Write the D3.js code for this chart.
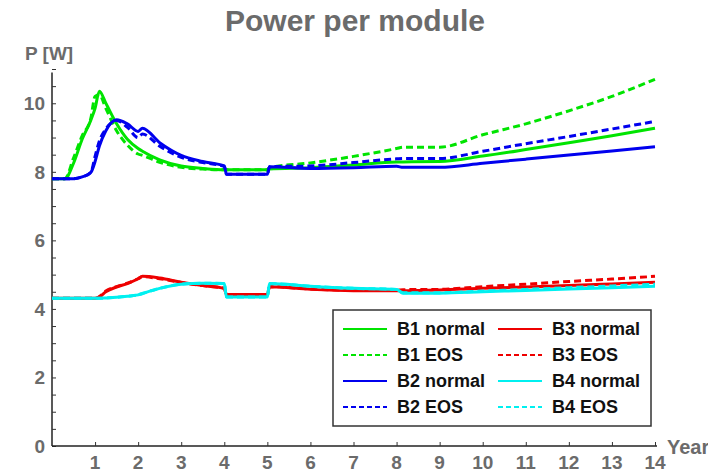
<!DOCTYPE html>
<html>
<head>
<meta charset="utf-8">
<script src="https://cdn.jsdelivr.net/npm/d3@7"></script>
<style>
  body { margin: 0; background: #fff; }
  text { font-family: "Liberation Sans", Arial, sans-serif; font-weight: bold; }
</style>
</head>
<body>
<div id="chart"></div>
<script>
// time grid (years)
var years = [0, 0.3, 0.5, 0.7, 0.9, 1.0, 1.1, 1.25, 1.5, 1.75, 2.0, 2.1, 2.5, 3.0, 3.5, 4.0, 4.05, 5.0, 5.05, 6, 7, 8, 8.15, 9, 10, 11, 12, 13, 14]

var b1_normal = [7.8, 7.8, 8.25, 8.95, 9.5, 9.85, 10.35, 10.0, 9.4, 8.95, 8.68, 8.6, 8.35, 8.17, 8.1, 8.06, 8.06, 8.06, 8.08, 8.12, 8.2, 8.29, 8.29, 8.3, 8.46, 8.65, 8.85, 9.05, 9.27]
var b1_eos = [7.8, 7.8, 8.4, 9.05, 9.55, 10.2, 10.25, 9.85, 9.2, 8.78, 8.52, 8.48, 8.28, 8.13, 8.08, 8.06, 8.06, 8.06, 8.12, 8.26, 8.45, 8.68, 8.72, 8.72, 9.08, 9.4, 9.78, 10.2, 10.7]
var b2_normal = [7.8, 7.8, 7.8, 7.85, 7.98, 8.3, 8.75, 9.2, 9.52, 9.4, 9.18, 9.27, 8.85, 8.48, 8.3, 8.17, 7.93, 7.93, 8.15, 8.1, 8.12, 8.16, 8.13, 8.13, 8.25, 8.37, 8.49, 8.61, 8.73]
var b2_eos = [7.8, 7.8, 7.8, 7.85, 7.98, 8.45, 8.9, 9.25, 9.5, 9.3, 9.0, 9.1, 8.75, 8.42, 8.27, 8.16, 7.93, 7.93, 8.15, 8.17, 8.27, 8.38, 8.39, 8.39, 8.6, 8.82, 9.03, 9.25, 9.47]
var b3_normal = [4.31, 4.31, 4.31, 4.31, 4.31, 4.31, 4.35, 4.5, 4.64, 4.74, 4.88, 4.95, 4.9, 4.78, 4.68, 4.6, 4.42, 4.42, 4.65, 4.57, 4.53, 4.53, 4.53, 4.55, 4.6, 4.64, 4.68, 4.73, 4.78]
var b3_eos = [4.31, 4.31, 4.31, 4.31, 4.31, 4.31, 4.36, 4.52, 4.65, 4.75, 4.88, 4.94, 4.88, 4.77, 4.68, 4.6, 4.42, 4.42, 4.65, 4.58, 4.55, 4.55, 4.56, 4.57, 4.65, 4.72, 4.8, 4.87, 4.95]
var b4_normal = [4.31, 4.31, 4.31, 4.31, 4.31, 4.31, 4.31, 4.32, 4.34, 4.37, 4.41, 4.45, 4.6, 4.72, 4.75, 4.74, 4.35, 4.35, 4.74, 4.66, 4.6, 4.57, 4.46, 4.46, 4.5, 4.54, 4.58, 4.62, 4.66]
var b4_eos = [4.31, 4.31, 4.31, 4.31, 4.31, 4.31, 4.31, 4.32, 4.34, 4.37, 4.41, 4.45, 4.6, 4.72, 4.75, 4.74, 4.35, 4.35, 4.74, 4.66, 4.6, 4.57, 4.47, 4.47, 4.52, 4.57, 4.62, 4.67, 4.72]

var series_names = ["B1 normal", "B1 EOS", "B2 normal", "B2 EOS", "B3 normal", "B3 EOS", "B4 normal", "B4 EOS"]
var series_values = [b1_normal, b1_eos, b2_normal, b2_eos, b3_normal, b3_eos, b4_normal, b4_eos]
var series_colors = ["#00e400", "#00e400", "#0000ee", "#0000ee", "#ee0000", "#ee0000", "#00f0f0", "#00f0f0"]

var x_ticks = [1, 2, 3, 4, 5, 6, 7, 8, 9, 10, 11, 12, 13, 14]
var y_ticks = [0, 2, 4, 6, 8, 10]

var width = 708, height = 472
var gray = "#6b6b6b"

var svg = d3.select("#chart")
    .append("svg")
    .attr("width", width)
    .attr("height", height)

var xScale = d3.scaleLinear().domain([0, 14]).range([52, 655])
var yScale = d3.scaleLinear().domain([0, 11]).range([446, 69])

// Title
svg.append("text")
    .attr("x", 355)
    .attr("y", 31)
    .attr("text-anchor", "middle")
    .style("font-size", "30px")
    .style("fill", gray)
    .text("Power per module")

// Y axis
var yAxis = svg.append("g")
    .attr("transform", "translate(52,0)")
    .call(d3.axisRight(yScale).tickValues(d3.range(0, 11.01, 0.5)).tickSize(4).tickFormat(""))
yAxis.select(".domain").attr("d", "M0," + yScale(10.9) + "V" + yScale(0)).attr("stroke", "#222").attr("stroke-width", 1.5)
yAxis.selectAll(".tick line").attr("stroke", "#333")

svg.selectAll("ylabels")
    .data(y_ticks)
    .enter()
    .append("text")
    .attr("x", 45)
    .attr("y", function (d) { return yScale(d) + 7 })
    .attr("text-anchor", "end")
    .style("font-size", "19px")
    .style("fill", gray)
    .text(function (d) { return d })

svg.append("text")
    .attr("x", 25)
    .attr("y", 60)
    .style("font-size", "19px")
    .style("fill", gray)
    .text("P [W]")

// X axis
var xAxis = svg.append("g")
    .attr("transform", "translate(0," + yScale(0) + ")")
    .call(d3.axisTop(xScale).tickValues(x_ticks).tickSize(4).tickFormat(""))
xAxis.select(".domain").attr("d", "M52,0H657").attr("stroke", "#222").attr("stroke-width", 1.5)
xAxis.selectAll(".tick line").attr("stroke", "#333")

svg.selectAll("xlabels")
    .data(x_ticks)
    .enter()
    .append("text")
    .attr("x", function (d) { return xScale(d) })
    .attr("y", 469)
    .attr("text-anchor", "middle")
    .style("font-size", "19px")
    .style("fill", gray)
    .text(function (d) { return d })

svg.append("text")
    .attr("x", 667)
    .attr("y", 454)
    .style("font-size", "20px")
    .style("fill", gray)
    .text("Year")

// Lines
var line = d3.line()
    .x(function (d) { return xScale(d[0]) })
    .y(function (d) { return yScale(d[1]) })
    .curve(d3.curveMonotoneX)

for (var i = 0; i < series_values.length; i++) {
    var pts = years.map(function (t, j) { return [t, series_values[i][j]] })
    svg.append("path")
        .datum(pts)
        .attr("d", line)
        .attr("fill", "none")
        .attr("stroke", series_colors[i])
        .attr("stroke-width", 3)
        .attr("stroke-dasharray", i % 2 == 1 ? "7,4" : null)
        .attr("stroke-linejoin", "round")
}

// Legend
svg.append("rect")
    .attr("x", 333)
    .attr("y", 310)
    .attr("width", 318)
    .attr("height", 116)
    .attr("fill", "white")
    .attr("stroke", "#333")
    .attr("stroke-width", 1.5)

var lg = svg.selectAll("legitems")
    .data(series_names)
    .enter()
    .append("g")
    .attr("transform", function (d, i) {
        var col = i < 4 ? 0 : 1
        var row = i % 4
        return "translate(" + (343 + col * 155) + "," + (329 + row * 26) + ")"
    })
lg.append("line")
    .attr("x1", 0)
    .attr("x2", 44)
    .attr("y1", 0)
    .attr("y2", 0)
    .attr("stroke", function (d, i) { return series_colors[i] })
    .attr("stroke-width", 2)
    .attr("stroke-dasharray", function (d, i) { return i % 2 == 1 ? "5,3" : null })
lg.append("text")
    .attr("x", 54)
    .attr("y", 6)
    .style("font-size", "18px")
    .style("fill", "#111")
    .text(function (d) { return d })
</script>
</body>
</html>
